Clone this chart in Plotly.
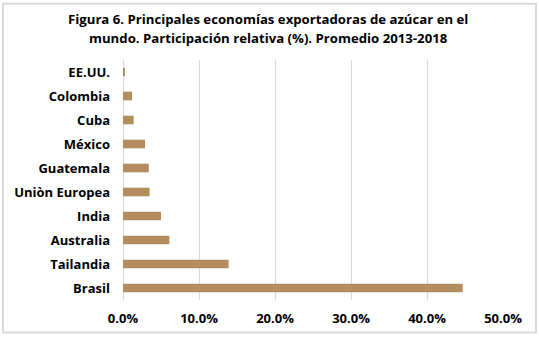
import plotly.graph_objects as go

# Export share by economy (%), average 2013-2018
paises = ["EE.UU.", "Colombia", "Cuba", "México", "Guatemala",
          "Uniòn Europea", "India", "Australia", "Tailandia", "Brasil"]
participacion = [0.2, 1.2, 1.4, 2.9, 3.4, 3.5, 5.0, 6.1, 13.9, 44.7]

ticks_x = [0, 10, 20, 30, 40, 50]
ticks_x_text = ["0.0%", "10.0%", "20.0%", "30.0%", "40.0%", "50.0%"]

titulo = ["Figura 6. Principales economías exportadoras de azúcar en el",
          "mundo. Participación relativa (%). Promedio 2013-2018"]

FONT = "Open Sans"
GRID = "#d9d9d9"
H_PLOT = 243  # plot area height in px

fig = go.Figure(
    go.Bar(
        x=participacion,
        y=paises,
        orientation="h",
        marker=dict(color="#b38f5e", line=dict(width=0)),
        hoverinfo="x+y",
    )
)

# title lines as annotations to control line spacing
annots = []
for i, linea in enumerate(titulo):
    annots.append(dict(
        text=linea, xref="paper", yref="paper",
        x=(268 - 123) / 380, xanchor="center",
        y=1 + (60 - (18 + 20 * i)) / H_PLOT, yanchor="middle",
        showarrow=False,
        font=dict(family=FONT, size=13.2, color="black", weight="bold"),
    ))

fig.update_layout(
    width=539,
    height=339,
    margin=dict(l=123, r=36, t=60, b=36),
    paper_bgcolor="white",
    plot_bgcolor="white",
    bargap=0.64,
    showlegend=False,
    annotations=annots,
    xaxis=dict(
        range=[0, 50],
        tickvals=ticks_x,
        ticktext=ticks_x_text,
        showgrid=True,
        gridcolor=GRID,
        gridwidth=1,
        zeroline=False,
        showline=False,
        ticks="",
        ticklabelstandoff=9,
        tickfont=dict(family=FONT, size=13, color="black", weight="bold"),
        fixedrange=True,
    ),
    yaxis=dict(
        categoryorder="array",
        categoryarray=paises[::-1],
        showgrid=False,
        zeroline=False,
        showline=False,
        ticks="",
        ticklabelstandoff=12,
        tickfont=dict(family=FONT, size=13, color="black", weight="bold"),
        fixedrange=True,
    ),
    shapes=[
        # outer frame
        dict(type="rect", xref="paper", yref="paper",
             x0=-120 / 380, x1=413 / 380, y0=-33 / H_PLOT, y1=300 / H_PLOT,
             line=dict(color=GRID, width=2), fillcolor="rgba(0,0,0,0)",
             layer="below"),
        # zero axis line
        dict(type="line", xref="x", yref="paper", x0=0, x1=0, y0=0, y1=1,
             line=dict(color=GRID, width=2), layer="below"),
    ],
)

fig.write_html("out.html")
